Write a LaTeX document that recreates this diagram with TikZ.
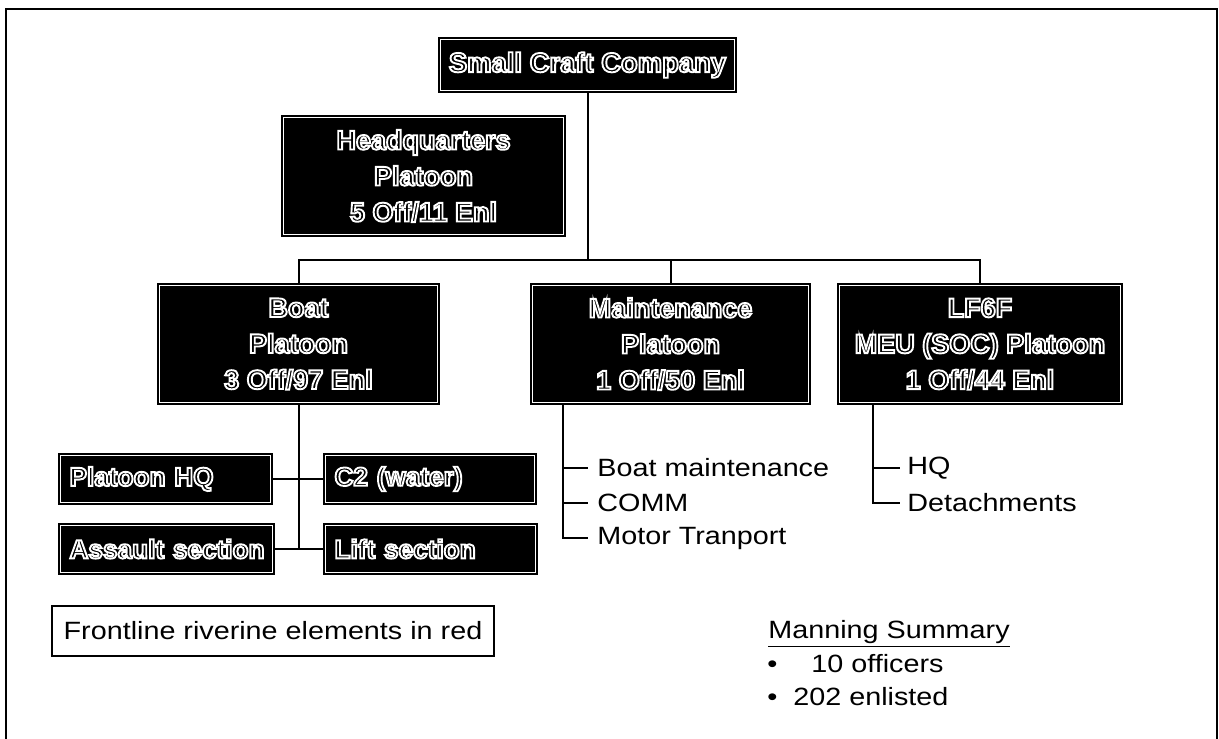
\documentclass[tikz,border=0pt]{standalone}
\usepackage{fontspec}
\setmainfont{Liberation Sans}
\usepackage{graphicx}

% hollow (stroked-only) lettering for the dark boxes
\newcommand\hollow[1]{\special{pdf:literal direct 1 Tr 0.95 w}#1\special{pdf:literal direct 0 Tr}}
% slightly wide plain lettering
\newcommand\wide[1]{\scalebox{1.15}[1]{#1}}

\begin{document}
\begin{tikzpicture}[x=0.5pt,y=-0.5pt,
  orgbox/.style={draw=black, fill=black, line width=1pt, double=white,
    double distance=0.7pt, inner sep=0pt, align=center, text=white,
    font=\bfseries\fontsize{13.5}{18}\selectfont},
  bigbox/.style={orgbox, minimum height=58.5pt},
  smallbox/.style={orgbox, minimum height=23.5pt, align=left,
    inner xsep=4.5pt, font=\bfseries\fontsize{13.1}{16}\selectfont},
  conn/.style={line width=1pt},
  plain/.style={font=\fontsize{12.5}{15}\selectfont, inner sep=0pt},
  listitem/.style={plain, anchor=west},
  notebox/.style={draw=black, line width=1pt, fill=white, inner sep=0pt,
    font=\fontsize{12.5}{15}\selectfont}
]
\useasboundingbox (0,0) rectangle (1219,738);

% outer frame
\coordinate (fbl) at (6,745);
\coordinate (ftl) at (6,9);
\coordinate (ftr) at (1217,9);
\coordinate (fbr) at (1217,745);
\draw[line width=1pt] (fbl) -- (ftl) -- (ftr) -- (fbr);

% company and platoons
\node[orgbox, minimum width=147pt, minimum height=25.5pt,
  font=\bfseries\fontsize{13.7}{17}\selectfont] (sc) at (587.5,65) {\hollow{Small Craft Company}};
\node[orgbox, minimum width=140pt, minimum height=58.5pt] (hq) at (423.5,176)
  {\hollow{Headquarters}\\\hollow{Platoon}\\\hollow{5 Off/11 Enl}};
\node[bigbox, minimum width=139pt] (boat) at (298.5,344)
  {\hollow{Boat}\\\hollow{Platoon}\\\hollow{3 Off/97 Enl}};
\node[bigbox, minimum width=138pt] (mnt) at (670.5,344)
  {\hollow{Maintenance}\\\hollow{Platoon}\\\hollow{1 Off/50 Enl}};
\node[bigbox, minimum width=140.5pt] (lf) at (980,344)
  {\hollow{LF6F}\\\hollow{MEU (SOC) Platoon}\\\hollow{1 Off/44 Enl}};

% boat platoon sections
\node[smallbox, text width=96pt] (phq) at (165.5,479) {\mbox{\hollow{Platoon HQ}}};
\node[smallbox, text width=95.5pt] (c2) at (430,479) {\mbox{\hollow{C2 (water)}}};
\node[smallbox, text width=97pt] (asl) at (166.5,549) {\mbox{\hollow{Assault section}}};
\node[smallbox, text width=96pt] (lift) at (430.5,549) {\mbox{\hollow{Lift section}}};

% tree connectors
\coordinate (barL) at (boat.north |- 0,260);
\draw[conn] (sc.south) -- (sc.south |- barL);
\draw[conn] (boat.north) -- (barL) -| (lf.north);
\draw[conn] (mnt.north) -- (mnt.north |- barL);
\draw[conn] (boat.south) -- (boat.south |- asl.east);
\draw[conn] (phq.east) -- (c2.west);
\draw[conn] (asl.east) -- (lift.west);

% maintenance platoon elements
\node[listitem, inner xsep=4.5pt] (bm) at (588,468) {\wide{Boat maintenance}};
\node[listitem, inner xsep=4.5pt] (comm) at (588,503) {\wide{COMM}};
\node[listitem, inner xsep=4.5pt] (mt) at (588,538) {\wide{Motor Tranport}};
\coordinate (mtop) at (mnt.south -| 563,0);
\draw[conn] (mtop) |- (bm.west);
\draw[conn] (mtop) |- (comm.west);
\draw[conn] (mtop) |- (mt.west);

% LF6F platoon elements
\node[listitem, inner xsep=3.5pt] (lhq) at (900,468) {\wide{HQ}};
\node[listitem, inner xsep=3.5pt] (det) at (900,503) {\wide{Detachments}};
\coordinate (ltop) at (lf.south -| 873,0);
\draw[conn] (ltop) |- (lhq.west);
\draw[conn] (ltop) |- (det.west);

% legend note
\node[notebox, minimum width=221pt, minimum height=25pt] (note) at (273,631)
  {\wide{Frontline riverine elements in red}};

% manning summary
\node[plain, anchor=base west] (ms) at (768,638) {\wide{\underline{Manning Summary}}};
\node[plain, anchor=base west] (b1) at (767,672) {\wide{•}};
\node[plain, anchor=base west] (off) at (811,672) {\wide{10 officers}};
\node[plain, anchor=base west] (b2) at (767,705) {\wide{•}};
\node[plain, anchor=base west] (enl) at (793,705) {\wide{202 enlisted}};
\end{tikzpicture}
\end{document}
